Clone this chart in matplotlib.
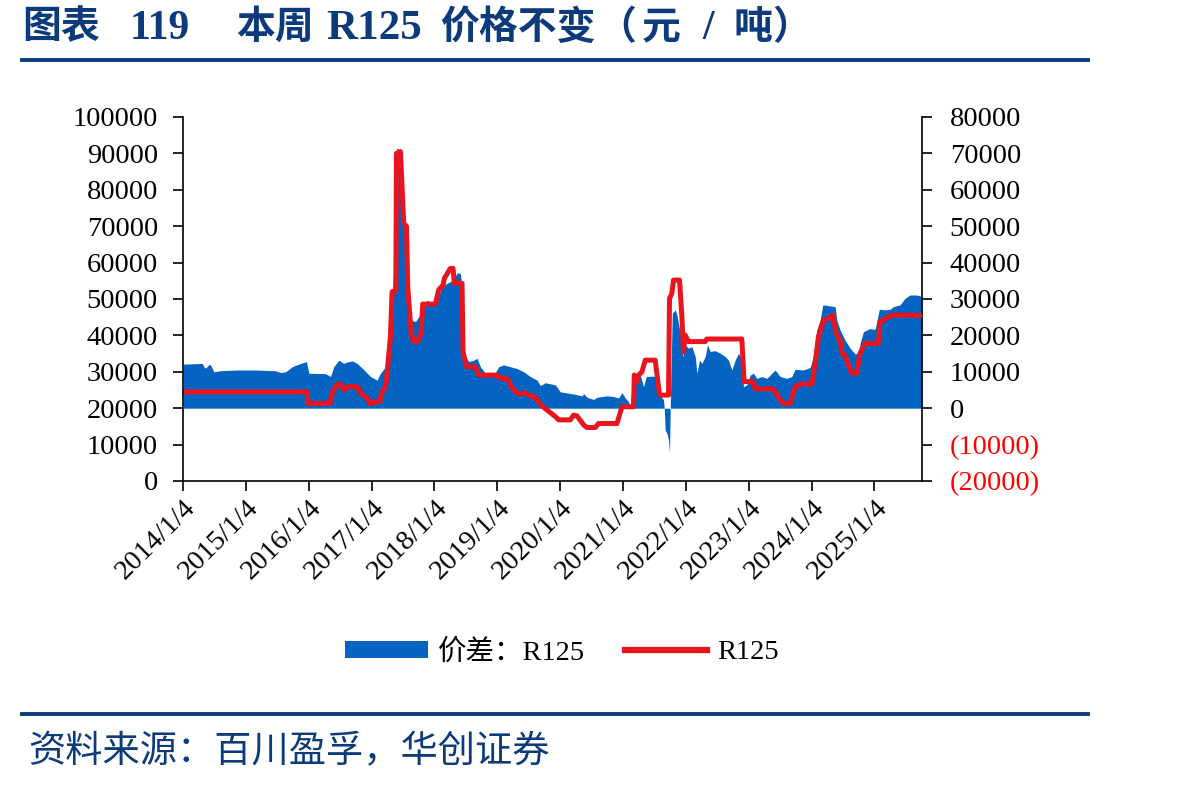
import matplotlib
matplotlib.use("Agg")
import matplotlib.pyplot as plt
from matplotlib.patches import Patch
from matplotlib.lines import Line2D

# ---------------- data (x in years, 2014.0 = 2014/1/4) ----------------
spread_t = [
    2014.005, 2014.307, 2014.332, 2014.359, 2014.412, 2014.439, 2014.491, 2014.598, 2014.863,
    2015.127, 2015.472, 2015.552, 2015.631, 2015.738, 2015.870, 2015.965,
    2016.002, 2016.267, 2016.347, 2016.399, 2016.479, 2016.558, 2016.612, 2016.692, 2016.771, 2016.851, 2016.983,
    2017.089, 2017.141, 2017.221, 2017.300, 2017.353, 2017.396, 2017.448, 2017.486, 2017.539, 2017.591, 2017.630,
    2017.698, 2017.750, 2017.804, 2017.884, 2017.989,
    2018.043, 2018.122, 2018.202, 2018.307, 2018.361, 2018.413, 2018.440, 2018.466, 2018.545, 2018.625, 2018.679,
    2018.731, 2018.811, 2018.970,
    2019.022, 2019.102, 2019.208, 2019.315, 2019.420, 2019.526, 2019.633, 2019.685, 2019.765, 2019.844, 2019.924,
    2020.003, 2020.215, 2020.348, 2020.374, 2020.428, 2020.533, 2020.587, 2020.746, 2020.851, 2020.930, 2020.984,
    2021.037, 2021.089, 2021.116, 2021.143, 2021.196, 2021.275, 2021.328, 2021.371, 2021.486, 2021.541, 2021.593,
    2021.645, 2021.657, 2021.672, 2021.700, 2021.725, 2021.741, 2021.752, 2021.785, 2021.831, 2021.859, 2021.911,
    2021.954, 2021.990,
    2022.043, 2022.097, 2022.150, 2022.177, 2022.218, 2022.256, 2022.308, 2022.345, 2022.388, 2022.467, 2022.547,
    2022.626, 2022.679, 2022.733, 2022.785, 2022.838, 2022.892, 2022.917, 2022.971,
    2023.024, 2023.076, 2023.130, 2023.210, 2023.289, 2023.421, 2023.501, 2023.607, 2023.687, 2023.739, 2023.871,
    2023.978,
    2024.030, 2024.084, 2024.137, 2024.180, 2024.296, 2024.375, 2024.402, 2024.455, 2024.534, 2024.614, 2024.693,
    2024.746, 2024.773, 2024.825, 2024.932,
    2025.011, 2025.079, 2025.170, 2025.250, 2025.302, 2025.409, 2025.488, 2025.568, 2025.674, 2025.758,
]
spread_v = [
    12100, 12300, 11400, 11000, 12000, 11900, 10000, 10300, 10500,
    10500, 10300, 9800, 10000, 11400, 12300, 12800,
    9600, 9500, 8700, 11400, 13200, 12300, 12700, 13000, 12300, 11000, 8700,
    7700, 9600, 11400, 18700, 38900, 71400, 71000, 57200, 43500, 29700, 24200,
    23800, 25100, 26100, 29700, 28600,
    29700, 33400, 34300, 35200, 37200, 37000, 33400, 15100, 12800, 13200, 13700,
    11400, 9600, 9800,
    11400, 11900, 11400, 10900, 10000, 8700, 7700, 6200, 7000, 6700, 6400,
    4500, 3900, 3400, 4000, 3000, 2400, 3000, 3400, 3200, 2800, 4300,
    2800, 1800, 200, 5900, 7700, 9100, 5900, 8700, 8800, 8400, 3600,
    2300, 0, -6000, -7000, -8700, -12400, 0, 26100, 27000, 25600, 20600,
    14200, 17400,
    16500, 16900, 14200, 9600, 13200, 12300, 14200, 17400, 15600, 15800, 15100,
    14200, 13200, 10500, 13200, 15100, 13200, 5900, 6400,
    9100, 9600, 8200, 8700, 8200, 10500, 8700, 8200, 8700, 10700, 10500,
    11200,
    14200, 21500, 24200, 28400, 28100, 27900, 24200, 21500, 18700, 16500, 14900,
    15100, 17800, 21000, 21900,
    21600, 27200, 27000, 27200, 27900, 28400, 30200, 31100, 31100, 30700,
]

price_t = [
    2014.000, 2015.976, 2015.985, 2016.336, 2016.373, 2016.453, 2016.506, 2016.558, 2016.611, 2016.770,
    2016.823, 2016.929, 2016.982, 2017.062, 2017.131, 2017.168, 2017.221, 2017.248, 2017.300, 2017.327,
    2017.386, 2017.396, 2017.459, 2017.512, 2017.555, 2017.576, 2017.630, 2017.671, 2017.735, 2017.788,
    2017.814, 2018.016, 2018.068, 2018.138, 2018.159, 2018.254, 2018.297, 2018.318, 2018.440, 2018.456,
    2018.509, 2018.652, 2018.705, 2018.997, 2019.049, 2019.156, 2019.235, 2019.315, 2019.447, 2019.526,
    2019.606, 2019.686, 2019.792, 2019.924, 2019.977, 2020.162, 2020.215, 2020.268, 2020.374, 2020.428,
    2020.560, 2020.612, 2020.905, 2020.984, 2021.169, 2021.180, 2021.222, 2021.248, 2021.302, 2021.355,
    2021.513, 2021.582, 2021.725, 2021.741, 2021.778, 2021.804, 2021.900, 2021.938, 2021.963, 2021.990,
    2022.043, 2022.308, 2022.335, 2022.891, 2022.928, 2023.076, 2023.103, 2023.394, 2023.500, 2023.553,
    2023.660, 2023.739, 2023.819, 2024.005, 2024.057, 2024.110, 2024.190, 2024.269, 2024.338, 2024.391,
    2024.455, 2024.481, 2024.534, 2024.587, 2024.640, 2024.720, 2024.772, 2024.852, 2025.063, 2025.090,
    2025.143, 2025.222, 2025.302, 2025.758,
]
price_v = [
    24500, 24500, 21300, 21300, 24200, 26600, 26600, 25000, 25900, 25900,
    24200, 22800, 21200, 21800, 21800, 24500, 25900, 29700, 39600, 52000,
    52300, 90000, 90500, 70800, 70000, 53400, 40600, 38300, 38300, 40600,
    48600, 48600, 52500, 53800, 55700, 58400, 58400, 54300, 54300, 35500,
    31400, 31400, 29100, 29100, 28200, 28200, 25500, 24100, 24100, 23400,
    23000, 21000, 19500, 17700, 16800, 16800, 18100, 17900, 15400, 14700,
    14700, 15800, 15800, 20400, 20400, 29100, 27300, 29100, 30000, 33200,
    33200, 23600, 23600, 50200, 51500, 55200, 55200, 45100, 35500, 40100,
    38300, 38300, 39000, 39000, 27300, 27300, 25300, 25300, 22300, 21300,
    21300, 25900, 26600, 26600, 32300, 39600, 44200, 44500, 45600, 40600,
    38700, 35100, 34500, 31900, 29600, 29600, 35100, 37800, 37800, 43800,
    44200, 45100, 45600, 45500,
]

year_ticks = list(range(2014, 2026))
year_labels = [f"{y}/1/4" for y in year_ticks]
left_ticks = list(range(0, 100001, 10000))
right_ticks = list(range(-20000, 80001, 10000))
right_labels = [f"({abs(v)})" if v < 0 else f"{v}" for v in right_ticks]

# title pieces (text, left x in px)
title_parts = [("图表", 22), ("119", 130), ("本周", 236), ("R125", 326), ("价格不变", 440),
               ("（", 597), ("元", 642), ("/", 702), ("吨", 734), ("）", 772)]
source = "资料来源：百川盈孚，华创证券"
legend_labels = ["价差：R125", "R125"]

BLUE = "#0563C1"
RED = "#E8151F"
NAVY = "#0C3A7B"

plt.rcParams["font.family"] = ["Liberation Serif", "Noto Sans CJK SC", "DejaVu Sans"]

W, H = 1198, 788
fig = plt.figure(figsize=(W / 100, H / 100), dpi=100)
fig.patch.set_facecolor("white")

ax1 = fig.add_axes([183 / W, 1 - 481 / H, (922 - 183) / W, (481 - 117) / H])
ax2 = ax1.twinx()
ax1.set_zorder(ax2.get_zorder() + 1)
ax1.patch.set_visible(False)

ax2.fill_between(spread_t, 0, spread_v, color=BLUE, lw=0)
ax1.plot(price_t, price_v, color=RED, lw=3.6, solid_joinstyle="round", solid_capstyle="butt")

ax1.set_xlim(2014.0, 2025.758)
ax1.set_ylim(0, 100000)
ax2.set_ylim(-20000, 80000)

ax1.set_xticks(year_ticks)
ax1.set_xticklabels(year_labels, rotation=45, ha="right", rotation_mode="anchor")
ax1.set_yticks(left_ticks)
ax1.set_yticklabels([str(v) for v in left_ticks])
ax2.set_yticks(right_ticks)
ax2.set_yticklabels(right_labels)
for lab, v in zip(ax2.get_yticklabels(), right_ticks):
    lab.set_color("#FF0000" if v < 0 else "black")

for ax in (ax1, ax2):
    ax.spines["top"].set_visible(False)
    for s in ax.spines.values():
        s.set_linewidth(1.2)
ax1.spines["right"].set_visible(False)
ax2.spines["left"].set_visible(False)
ax2.spines["bottom"].set_visible(False)

ax1.tick_params(axis="y", direction="out", length=7, width=1.2, labelsize=20.5, pad=11)
ax1.tick_params(axis="x", direction="out", length=7, width=1.2, labelsize=20.5, pad=3)
ax2.tick_params(axis="y", direction="out", length=7, width=1.2, labelsize=20.5, pad=13)

# legend
handles = [Patch(facecolor=BLUE, edgecolor="none"),
           Line2D([0], [0], color=RED, lw=4.5)]
fig.legend(handles, legend_labels, loc="center", bbox_to_anchor=(562 / W, 1 - 652 / H),
           ncol=2, frameon=False, fontsize=20.5, handlelength=2.9, handletextpad=0.35,
           columnspacing=1.4, handleheight=0.55)

# title, rules, source
for txt, xpx in title_parts:
    if txt.isascii():
        size = 31 if txt == "R125" else 30
    else:
        size = 28
    fig.text(xpx / W, 1 - 29 / H, txt, fontsize=size, fontweight="bold",
             color=NAVY, ha="left", va="center")
fig.add_artist(Line2D([22 / W, 1088 / W], [1 - 60 / H] * 2, color=NAVY, lw=2.8))
fig.add_artist(Line2D([22 / W, 1088 / W], [1 - 714 / H] * 2, color=NAVY, lw=2.8))
fig.text(28 / W, 1 - 752 / H, source, fontsize=26.8, color=NAVY, ha="left", va="center",
         family=["Noto Sans CJK SC", "DejaVu Sans"])

fig.savefig("out.png", dpi=100, facecolor="white")
